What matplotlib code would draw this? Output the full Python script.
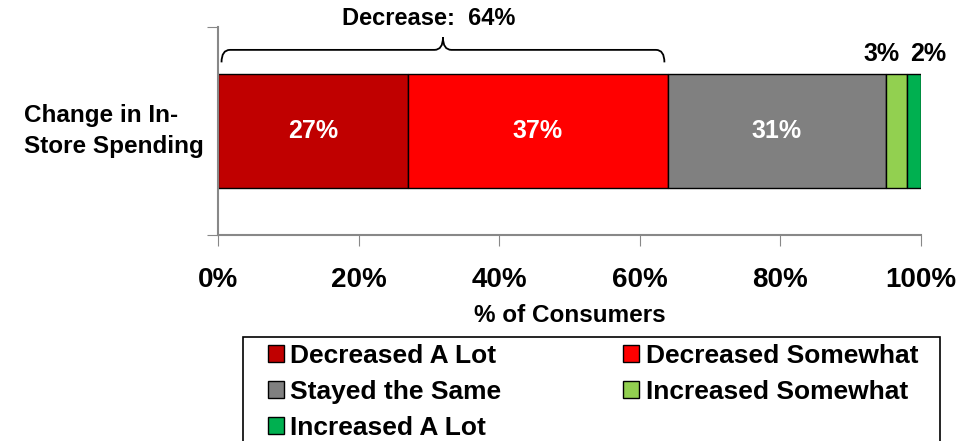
import matplotlib
matplotlib.use('Agg')
import matplotlib.pyplot as plt
from matplotlib.path import Path
from matplotlib.patches import PathPatch, Patch, Rectangle

# data
category = 'Change in In-\nStore Spending'
segments = ['Decreased A Lot', 'Decreased Somewhat', 'Stayed the Same',
            'Increased Somewhat', 'Increased A Lot']
values = [27, 37, 31, 3, 2]
colors = ['#C00000', '#FF0000', '#808080', '#92D050', '#00B050']
xticks = [0, 20, 40, 60, 80, 100]
xtick_labels = ['0%', '20%', '40%', '60%', '80%', '100%']
dec_total = values[0] + values[1]

BOLD = ['Liberation Sans', 'DejaVu Sans']

fig = plt.figure(figsize=(9.58, 4.41), dpi=100)
ax = fig.add_axes([218/958, 1-235/441, 703/958, 208/441])

left = 0
for v, c, name in zip(values, colors, segments):
    ax.barh(0, v, left=left, height=0.55, color=c, edgecolor='black', linewidth=1, label=name)
    if v >= 10:
        ax.text(left + v/2, 0, f'{v}%', ha='center', va='center', color='white',
                fontsize=18, fontweight='bold', family=BOLD)
    left += v

# small segment labels placed above the bar
ax.annotate(f'{values[3]}%', xy=(values[0]+values[1]+values[2]+values[3], 0.37),
            xytext=(-5, 0), textcoords='offset points', ha='right', va='center',
            fontsize=18, fontweight='bold', family=BOLD, annotation_clip=False)
ax.annotate(f'{values[4]}%', xy=(100 - values[4], 0.37),
            xytext=(2, 0), textcoords='offset points', ha='left', va='center',
            fontsize=18, fontweight='bold', family=BOLD, annotation_clip=False)

# brace over the decrease segments
x0, x1 = 0.5, dec_total - 0.5
xm = (x0 + x1) / 2
yb, yh, yt, r = 0.33, 0.39, 0.45, 1.2
verts = [(x0, yb), (x0, yh), (x0 + r, yh), (xm - r, yh), (xm, yh), (xm, yt),
         (xm, yh), (xm + r, yh), (x1 - r, yh), (x1, yh), (x1, yb)]
codes = [Path.MOVETO, Path.CURVE3, Path.CURVE3, Path.LINETO, Path.CURVE3, Path.CURVE3,
         Path.CURVE3, Path.CURVE3, Path.LINETO, Path.CURVE3, Path.CURVE3]
ax.add_patch(PathPatch(Path(verts, codes), facecolor='none', edgecolor='black',
                       linewidth=1.3, clip_on=False))
ax.text(xm - 2, 0.54, f'Decrease:  {dec_total}%', ha='center', va='center',
        fontsize=17, fontweight='bold', family=BOLD, clip_on=False)

ax.set_xlim(0, 100)
ax.set_ylim(-0.5, 0.5)
ax.set_xticks(xticks)
ax.set_xticklabels(xtick_labels, fontsize=20, fontweight='bold', family=BOLD)
ax.set_yticks([-0.5, 0.5])
ax.set_yticklabels([])
ax.tick_params(axis='x', length=8, color='#888888', pad=15)
ax.tick_params(axis='y', length=8, color='#888888')
for s in ['top', 'right']:
    ax.spines[s].set_visible(False)
for s in ['left', 'bottom']:
    ax.spines[s].set_color('#888888')
    ax.spines[s].set_linewidth(1.5)

ax.text(-0.276, 0, category, transform=ax.get_yaxis_transform(), ha='left', va='center',
        multialignment='left', fontsize=17.5, fontweight='bold', family=BOLD, linespacing=1.45)
ax.set_xlabel('% of Consumers', fontsize=17.5, fontweight='bold', family=BOLD, labelpad=8)

# legend box (runs off the bottom of the figure)
fig.patches.append(Rectangle((243/958, -0.05), 697/958, 1-337/441+0.05,
                             transform=fig.transFigure, facecolor='white',
                             edgecolor='black', linewidth=1.2))

# legend filled row by row
order = [0, 2, 4, 1, 3]
handles = [Patch(facecolor=colors[i], edgecolor='black', linewidth=1) for i in order]
leg = fig.legend(handles, [segments[i] for i in order], ncol=2, loc='upper left',
                 bbox_to_anchor=(268/958, 0, 650/958, 1-344/441), mode='expand',
                 prop={'family': BOLD, 'weight': 'bold', 'size': 19},
                 handlelength=0.6, handleheight=0.6, handletextpad=0.25,
                 labelspacing=0.45, borderpad=0, frameon=False, borderaxespad=0)

fig.savefig('out.png', dpi=100)
